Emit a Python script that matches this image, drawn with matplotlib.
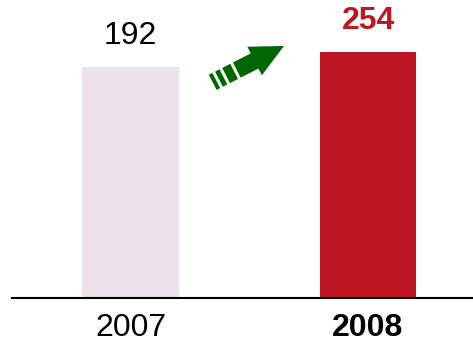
import numpy as np
import matplotlib.pyplot as plt
from matplotlib.patches import Polygon

plt.rcParams['font.family'] = ['Liberation Sans', 'DejaVu Sans']

years = ["2007", "2008"]
values = [192, 254]
bar_colors = ["#EDE1EC", "#BE1622"]
label_colors = ["#000000", "#BE1622"]
label_weights = ["normal", "bold"]

BASE = -763  # value axis does not start at zero

fig = plt.figure(figsize=(4.73, 3.45), dpi=100)
ax = fig.add_axes([12 / 473, 47 / 345, 461 / 473, 298 / 345])

x = np.arange(len(years))
heights = np.array(values) - BASE
ax.bar(x, heights, bottom=BASE, width=0.405, color=bar_colors)
ax.set_xlim(-0.499, 1.442)
ax.set_ylim(BASE, 469)

for xi, v, c, w in zip(x, values, label_colors, label_weights):
    ax.text(xi, v + 68, str(v), ha="center", va="bottom", fontsize=23,
            color=c, fontweight=w)

ax.set_xticks(x)
ax.set_xticklabels(years, fontsize=23)
for lbl, w in zip(ax.get_xticklabels(), label_weights):
    lbl.set_fontweight(w)
ax.tick_params(axis="x", length=0, pad=11)
ax.set_yticks([])
for side in ["left", "right", "top"]:
    ax.spines[side].set_visible(False)
ax.spines["bottom"].set_linewidth(1.5)
ax.spines["bottom"].set_color("#000000")

# green trend arrow, drawn in pixel space on an overlay
ov = fig.add_axes([0, 0, 1, 1])
ov.set_xlim(0, 473)
ov.set_ylim(345, 0)
ov.axis("off")

tip = np.array([284.0, 46.0])
ang = np.deg2rad(27)
u = np.array([np.cos(ang), -np.sin(ang)])
n = np.array([np.sin(ang), np.cos(ang)])
start = tip - 80 * u
green = "#006600"


def pt(s, t):
    return start + s * u + t * n


for s0, s1 in [(0, 4), (7, 12), (15, 24), (27, 48)]:
    ov.add_patch(Polygon([pt(s0, -8.5), pt(s1, -8.5), pt(s1, 8.5), pt(s0, 8.5)],
                         closed=True, color=green, lw=0))
ov.add_patch(Polygon([pt(47, -16), tip, pt(47, 16)], closed=True,
                     color=green, lw=0))

fig.savefig("out.png", dpi=100)
